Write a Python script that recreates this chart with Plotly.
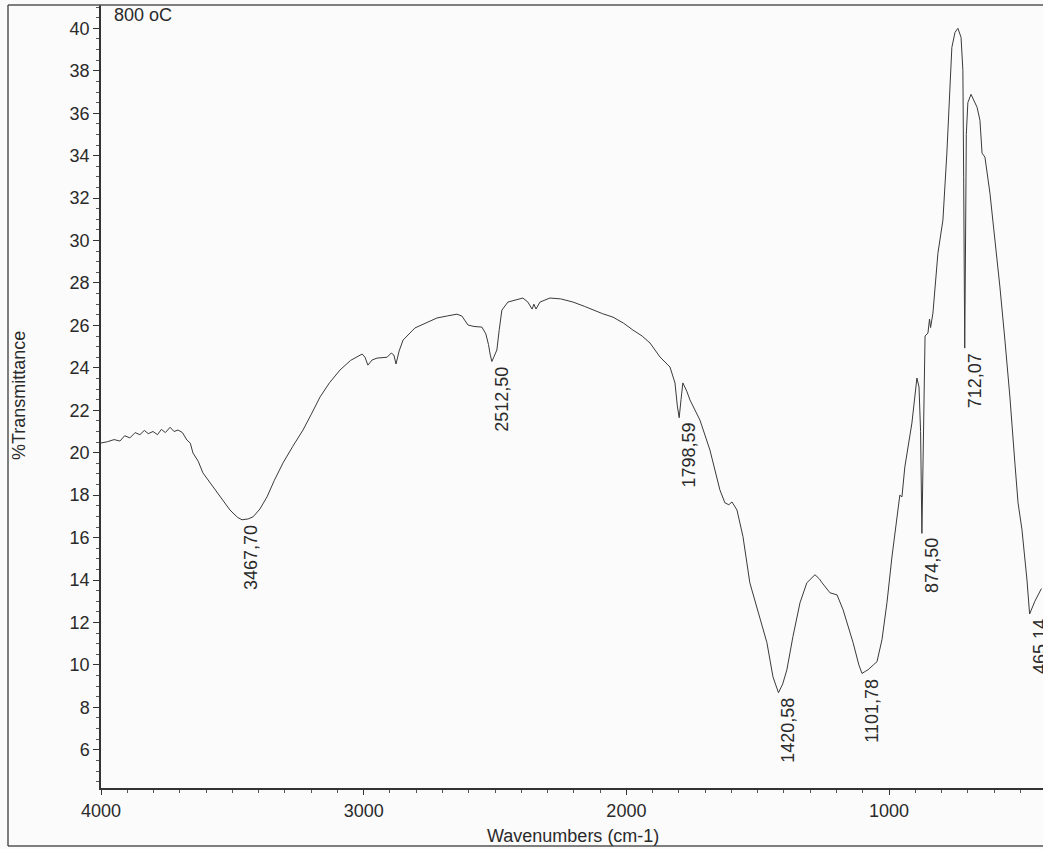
import plotly.graph_objects as go

# Spectrum data (wavenumber cm-1, %Transmittance)
wavenumbers = [
    4000, 3975, 3950, 3928, 3910, 3890, 3870, 3852, 3835, 3820, 3802, 3785, 3770, 3755,
    3737, 3722, 3707, 3690, 3673, 3660, 3650, 3630, 3612, 3585, 3558,
    3509, 3480, 3463, 3440, 3421, 3395, 3368, 3340, 3307, 3270, 3231, 3200, 3166, 3130,
    3090, 3050, 3006, 2995, 2984, 2968, 2949, 2911, 2895, 2885, 2877, 2865, 2850, 2805,
    2760, 2721, 2680, 2645, 2626, 2603, 2580, 2550, 2535, 2525, 2518, 2512, 2505, 2493,
    2484, 2474, 2451, 2420, 2394, 2375, 2359, 2352, 2344, 2329, 2291, 2250, 2203, 2160,
    2127, 2090, 2051, 2010, 1975, 1940, 1910, 1872, 1834, 1815, 1806, 1799, 1792, 1785,
    1770, 1758, 1720, 1682, 1644, 1625, 1610, 1598, 1579, 1556, 1530, 1503, 1465, 1442,
    1421, 1405, 1389, 1366, 1339, 1313, 1282, 1265, 1255, 1225, 1198, 1175, 1137, 1115,
    1103, 1090, 1080, 1060, 1046, 1027, 1008, 989, 970, 959, 951, 940, 913, 900,
    894, 886, 880, 875, 871, 867, 863, 852, 846, 842, 833, 814, 795, 780,
    768, 761, 749, 738, 726, 719, 716, 714, 712, 710, 706, 700, 688, 665,
    654, 646, 635, 616, 597, 578, 559, 540, 521, 509, 494, 475, 465, 445, 420,
]
transmittance = [
    20.46, 20.52, 20.62, 20.55, 20.8, 20.7, 20.95, 20.85, 21.05, 20.9, 21.0, 20.85, 21.1, 20.95,
    21.2, 21.0, 21.07, 20.95, 20.6, 20.45, 19.99, 19.6, 19.05, 18.6, 18.1,
    17.3, 16.95, 16.84, 16.88, 16.98, 17.35, 17.92, 18.7, 19.52, 20.3, 21.07, 21.8, 22.63, 23.3,
    23.9, 24.35, 24.65, 24.5, 24.13, 24.37, 24.46, 24.5, 24.7, 24.6, 24.18, 24.8, 25.31, 25.88,
    26.15, 26.35, 26.45, 26.53, 26.44, 26.02, 25.95, 25.92, 25.6, 25.1, 24.6, 24.3, 24.5, 24.84,
    25.8, 26.72, 27.1, 27.2, 27.29, 27.1, 26.77, 27.0, 26.77, 27.1, 27.29, 27.25, 27.1, 26.9,
    26.72, 26.55, 26.39, 26.1, 25.78, 25.5, 25.17, 24.51, 24.04, 23.29, 22.2, 21.65, 22.5, 23.29,
    22.9, 22.49, 21.54, 20.13, 18.25, 17.64, 17.55, 17.68, 17.3, 16.04, 13.87, 12.74, 11.05, 9.44,
    8.69, 9.1, 9.77, 11.33, 12.93, 13.87, 14.25, 14.05, 13.87, 13.4, 13.3, 12.6, 11.05, 10.0,
    9.6, 9.7, 9.77, 10.0, 10.15, 11.19, 12.93, 15.09, 16.98, 18.0, 17.92, 19.33, 21.4, 22.8,
    23.52, 23.1, 21.0, 16.2, 19.0, 21.5, 25.5, 25.64, 26.3, 25.9, 26.58, 29.4, 30.96, 34.12,
    37.22, 39.1, 39.81, 40.0, 39.58, 38.02, 33.0, 28.0, 24.93, 28.0, 35.0, 36.5, 36.89, 36.28,
    35.67, 34.12, 33.93, 32.23, 30.16, 27.81, 25.31, 22.63, 19.52, 17.64, 16.37, 14.0, 12.4, 13.0, 13.6,
]

# Peak labels
peak_positions = [3467.70, 2512.50, 1798.59, 1420.58, 1101.78, 874.50, 712.07, 465.14]
peak_levels = [16.84, 24.3, 21.65, 8.69, 9.6, 16.2, 24.93, 12.4]
peak_texts = ["3467,70", "2512,50", "1798,59", "1420,58", "1101,78", "874,50", "712,07", "465,14"]

y_ticks = list(range(6, 41, 2))
x_ticks = [4000, 3000, 2000, 1000]

FONT = "Liberation Sans, Arial, sans-serif"
INK = "#2a2a2a"
FS = 18

W, H = 1043, 849
L, R, T, B = 101, 0, 5, 61
PW, PH = W - L - R, H - T - B


def px_to_paper(xp, yp):
    return (xp - L) / PW, (H - B - yp) / PH


fig = go.Figure()
fig.add_trace(go.Scatter(
    x=wavenumbers, y=transmittance, mode="lines",
    line=dict(color="#3a3a3a", width=1), hoverinfo="x+y", showlegend=False,
))

for px, py, txt in zip(peak_positions, peak_levels, peak_texts):
    fig.add_annotation(
        x=px, y=py, text=txt, textangle=-90, showarrow=False,
        xanchor="center", yanchor="top", xshift=10, yshift=-3,
        font=dict(family=FONT, size=FS, color=INK),
    )

fig.add_annotation(
    x=0.012, y=1.0, xref="paper", yref="paper", text="800 oC", showarrow=False,
    xanchor="left", yanchor="top", yshift=2,
    font=dict(family=FONT, size=FS, color=INK),
)

# axis titles as paper annotations
tx, ty = px_to_paper(573, 836)
fig.add_annotation(x=tx, y=ty, xref="paper", yref="paper", text="Wavenumbers (cm-1)",
                   showarrow=False, xanchor="center", yanchor="middle",
                   font=dict(family=FONT, size=FS, color=INK))
tx, ty = px_to_paper(19, 396)
fig.add_annotation(x=tx, y=ty, xref="paper", yref="paper", text="%Transmittance",
                   showarrow=False, xanchor="center", yanchor="middle", textangle=-90,
                   font=dict(family=FONT, size=FS, color=INK))

# page frame of the scanned sheet
fx0, fy0 = px_to_paper(8, 846)
fig.add_shape(type="line", xref="paper", yref="paper", x0=fx0, x1=1.01, y0=1.0, y1=1.0,
              line=dict(color="#555", width=1.5))
fig.add_shape(type="line", xref="paper", yref="paper", x0=fx0, x1=fx0, y0=1.0, y1=fy0,
              line=dict(color="#555", width=1.5))
fig.add_shape(type="line", xref="paper", yref="paper", x0=fx0, x1=1.01, y0=fy0, y1=fy0,
              line=dict(color="#555", width=1.5))

fig.update_layout(
    width=W, height=H,
    margin=dict(l=L, r=R, t=T, b=B, autoexpand=False),
    paper_bgcolor="#fbfbfb", plot_bgcolor="#fbfbfb",
    font=dict(family=FONT, size=FS, color=INK),
    xaxis=dict(
        range=[4000, 414], tickvals=x_ticks, ticktext=[str(v) for v in x_ticks],
        showgrid=False, zeroline=False, showline=True, linecolor="#333", linewidth=2,
        ticks="outside", ticklen=5, tickcolor="#333", automargin=False,
        minor=dict(dtick=100, ticks="outside", ticklen=3, tickcolor="#555", showgrid=False),
        tickfont=dict(family=FONT, size=FS, color=INK),
    ),
    yaxis=dict(
        range=[4.2, 41.1], tickvals=y_ticks, ticktext=[str(v) for v in y_ticks],
        showgrid=False, zeroline=False, showline=True, linecolor="#333", linewidth=1.5,
        ticks="outside", ticklen=6, tickcolor="#333", automargin=False,
        minor=dict(dtick=0.5, ticks="outside", ticklen=3, tickcolor="#555", showgrid=False),
        tickfont=dict(family=FONT, size=FS, color=INK),
    ),
)

fig.write_html(
    "out.html",
    config={"displayModeBar": False},
    post_script="document.body.style.margin='0';document.body.style.overflow='hidden';",
)
